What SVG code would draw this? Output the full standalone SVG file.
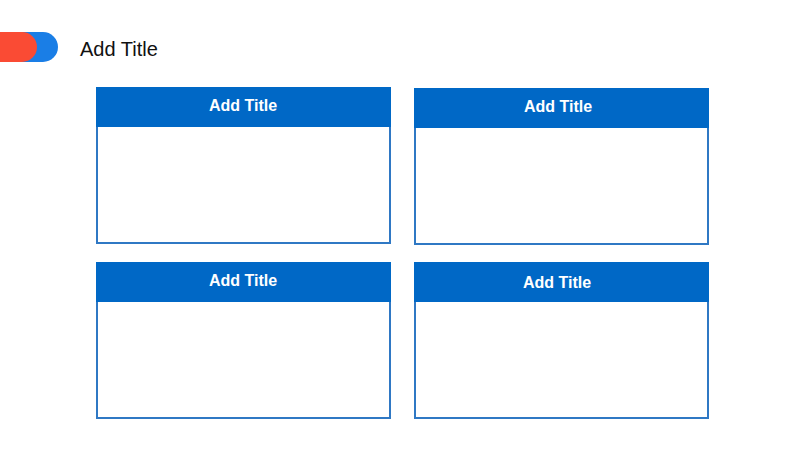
<svg xmlns="http://www.w3.org/2000/svg" width="799" height="450" viewBox="0 0 799 450">
<style>
.box{fill:#fff;stroke:#2f78c4;stroke-width:2}
.hdr{fill:#0068c6}
.ht{font-family:"Liberation Sans",Arial,sans-serif;font-size:16px;font-weight:bold;fill:#fff;text-anchor:middle}
.t{font-family:"Liberation Sans",Arial,sans-serif;font-size:20px;fill:#111}
</style>
<rect width="799" height="450" fill="#fff"/>
<g id="badge">
<rect x="-20" y="32" width="78" height="30" rx="15" fill="#1a7ee6"/>
<rect x="-20" y="32" width="57" height="30" rx="15" fill="#fa4b34"/>
<text class="t" x="80" y="56">Add Title</text>
</g>
<g id="box1">
<rect class="box" x="97" y="88" width="293" height="155"/>
<rect class="hdr" x="96" y="87" width="295" height="40"/>
<text class="ht" x="243" y="111">Add Title</text>
</g>
<g id="box2">
<rect class="box" x="415" y="89" width="293" height="155"/>
<rect class="hdr" x="414" y="88" width="295" height="40"/>
<text class="ht" x="558" y="112">Add Title</text>
</g>
<g id="box3">
<rect class="box" x="97" y="263" width="293" height="155"/>
<rect class="hdr" x="96" y="262" width="295" height="40"/>
<text class="ht" x="243" y="286">Add Title</text>
</g>
<g id="box4">
<rect class="box" x="415" y="263" width="293" height="155"/>
<rect class="hdr" x="414" y="262" width="295" height="40"/>
<text class="ht" x="557" y="288">Add Title</text>
</g>
<g id="connectors"/>
</svg>
